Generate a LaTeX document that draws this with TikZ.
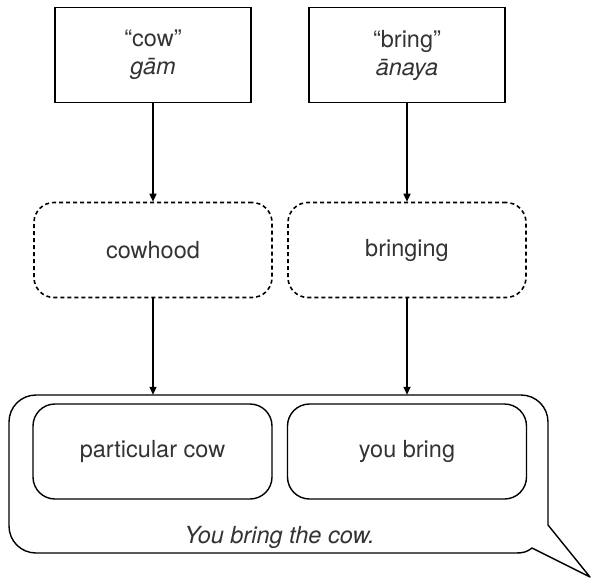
\documentclass[tikz,border=0pt]{standalone}
\usepackage{fontspec}
\setmainfont{TeX Gyre Heros}
\usetikzlibrary{arrows.meta}
\definecolor{txt}{HTML}{333333}
\tikzset{
  every node/.style={text=txt, font=\fontsize{23.5}{28}\selectfont},
  ln/.style={line width=1.4pt, draw=black},
  wordbox/.style={ln, rectangle, minimum width=196, minimum height=95, align=center},
  ideabox/.style={draw=black, line width=1.6pt, dash pattern=on 4pt off 3pt, rectangle, rounded corners=20pt, minimum width=238, minimum height=95},
  innerbox/.style={ln, rectangle, rounded corners=22pt, minimum width=239, minimum height=95},
  arr/.style={line width=1.4pt, draw=black, fill=black, -{Triangle[length=8pt,width=7pt]}}
}
\begin{document}
\begin{tikzpicture}[x=1pt,y=-1pt]
\useasboundingbox (0,0) rectangle (591,578);
% top word boxes
\node[wordbox] (w1) at (153,55) {“cow”\\\itshape gām};
\node[wordbox] (w2) at (407,55) {“bring”\\\itshape ānaya};
% dashed idea boxes
\node[ideabox] (i1) at (153,250) {cowhood};
\node[ideabox] (i2) at (407,250) {bringing};
% speech bubble anchor
\node[minimum width=539, minimum height=158, inner sep=0pt] (bubble) at (278.5,474) {};
\draw[line width=1.4pt, draw=black, line join=round]
  (590,577) -- (532,548) .. controls (527,552) and (523,553) .. (516,553)
  -- (36,553) .. controls (21,553) and (9,541) .. (9,526)
  -- (9,422) .. controls (9,407) and (21,395) .. (36,395)
  -- (521,395) .. controls (536,395) and (548,407) .. (548,422)
  -- (548,525) -- cycle;
% inner boxes
\node[innerbox] (p1) at (152.5,451.5) {particular cow};
\node[innerbox] (p2) at (407,451.5) {you bring};
\node[font=\fontsize{23.5}{28}\selectfont\itshape] (s) at (279.5,537) {You bring the cow.};
% connectors
\draw[arr] (w1.south) -- (i1.north);
\draw[arr] (w2.south) -- (i2.north);
\draw[arr] (i1.south) -- (i1.south |- bubble.north);
\draw[arr] (i2.south) -- (i2.south |- bubble.north);
\end{tikzpicture}
\end{document}
